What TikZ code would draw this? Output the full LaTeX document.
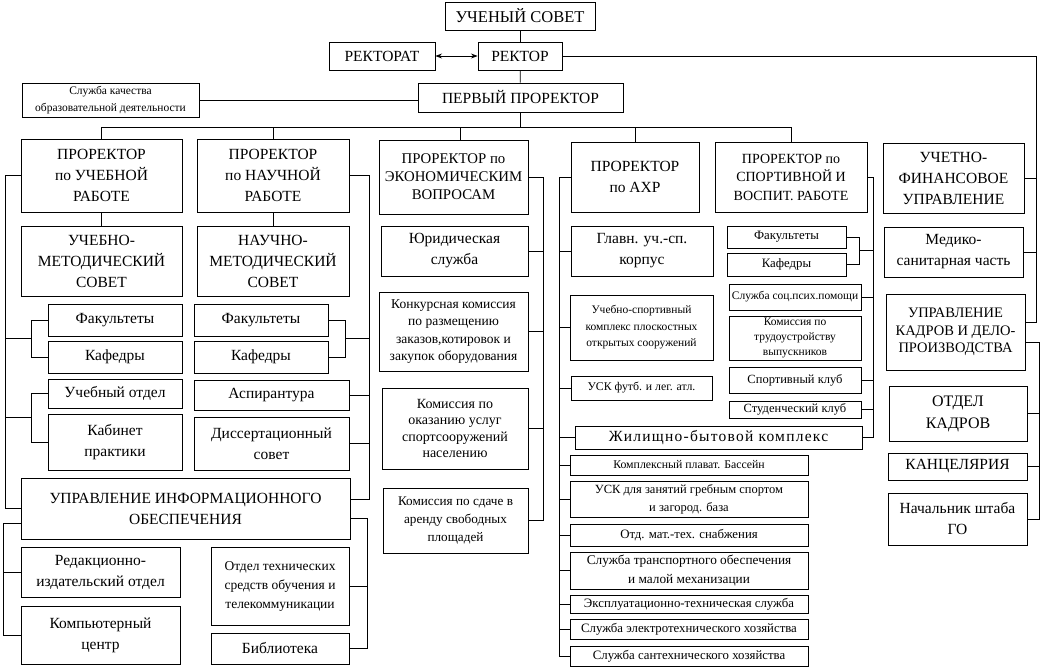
\documentclass[tikz,border=0pt]{standalone}
\usepackage{fontspec}
\setmainfont{Liberation Serif}
\usetikzlibrary{arrows.meta, positioning, calc}

\begin{document}
\begin{tikzpicture}[>=Stealth, x=1pt, y=-1pt, line width=0.8pt,
  box/.style={draw, align=center, inner sep=1pt},
  sz/.style 2 args={minimum width=#1, minimum height=#2},
  fsize/.style 2 args={font=\fontsize{#1}{#2}\selectfont},
  fbig/.style={fsize={15.5}{21}},
  fmid/.style={fsize={13.3}{18.5}},
  fsml/.style={fsize={12.8}{16.5}},
  ftny/.style={fsize={11.5}{15}}]
  \useasboundingbox (0,0) rectangle (1040,667);
  \coordinate (bus) at (0,127);
  \coordinate (lrail) at (5,0);
  \coordinate (lrail2) at (3,0);
  \coordinate (nrail) at (369,0);
  \coordinate (nrail2) at (367,0);
  \coordinate (erail) at (543,0);
  \coordinate (arail) at (559,0);
  \coordinate (srail) at (873,0);
  \coordinate (rrail) at (1036,0);
  \coordinate (rrail2) at (1039,0);

  % top
  \node[box, fsize={16.5}{21}, sz={150}{28}] (usov) at (520,16) {УЧЕНЫЙ СОВЕТ};
  \node[box, fbig, sz={106}{28}] (rektorat) at (382,56) {РЕКТОРАТ};
  \node[box, fbig, sz={84}{28}] (rektor) at (520,56) {РЕКТОР};
  \node[box, fsize={11.5}{16.5}, sz={177}{34}] (sluzhba) at (110.5,100) {Служба качества\\образовательной деятельности};
  \node[box, fbig, sz={205}{29}] (perv) at (520.5,97.5) {ПЕРВЫЙ ПРОРЕКТОР};

  % prorectors
  \node[box, fbig, sz={161}{73}] (pu) at (101.5,175.5) {ПРОРЕКТОР\\по УЧЕБНОЙ\\РАБОТЕ};
  \node[box, fbig, sz={152}{73}] (pn) at (273,175.5) {ПРОРЕКТОР\\по НАУЧНОЙ\\РАБОТЕ};
  \node[box, fsize={14.8}{18}, sz={149}{74}] (pe) at (453.5,177) {ПРОРЕКТОР по\\ЭКОНОМИЧЕСКИМ\\ВОПРОСАМ};
  \node[box, fbig, sz={128}{70}] (pa) at (635,177) {ПРОРЕКТОР\\по АХР};
  \node[box, fsize={14}{18.5}, sz={152}{70}] (ps) at (791,177) {ПРОРЕКТОР по\\СПОРТИВНОЙ И\\ВОСПИТ. РАБОТЕ};
  \node[box, fbig, sz={141}{70}] (ufu) at (953.5,178) {УЧЕТНО-\\ФИНАНСОВОЕ\\УПРАВЛЕНИЕ};

  % left columns
  \node[box, fbig, sz={161}{70}] (ums) at (101.5,261) {УЧЕБНО-\\МЕТОДИЧЕСКИЙ\\СОВЕТ};
  \node[box, fbig, sz={152}{70}] (nms) at (273,261) {НАУЧНО-\\МЕТОДИЧЕСКИЙ\\СОВЕТ};
  \node[box, fbig, sz={134}{32}] (lfak) at (115,320) {Факультеты};
  \node[box, fbig, sz={134}{32}] (lkaf) at (115,357) {Кафедры};
  \node[box, fbig, sz={134}{29}] (uo) at (115,393.5) {Учебный отдел};
  \node[box, fbig, sz={134}{56}] (kab) at (115,442) {Кабинет\\практики};
  \node[box, fbig, sz={134}{32}] (nfak) at (261,320) {Факультеты};
  \node[box, fbig, sz={134}{32}] (nkaf) at (261,357) {Кафедры};
  \node[box, fbig, sz={155}{30}] (asp) at (271.5,395) {Аспирантура};
  \node[box, fbig, sz={155}{53}] (dis) at (271.5,443.5) {Диссертационный\\совет};
  \node[box, fbig, sz={329}{61}] (uio) at (185.5,508.5) {УПРАВЛЕНИЕ ИНФОРМАЦИОННОГО\\ОБЕСПЕЧЕНИЯ};
  \node[box, fbig, sz={159}{50}] (red) at (100.5,572) {Редакционно-\\издательский отдел};
  \node[box, fbig, sz={159}{58}] (komp) at (100.5,635) {Компьютерный\\центр};
  \node[box, fsize={13.5}{19}, sz={138}{78}] (tso) at (280,586) {Отдел технических\\средств обучения и\\телекоммуникации};
  \node[box, fbig, sz={138}{31}] (bib) at (280,648.5) {Библиотека};

  % economics
  \node[box, fbig, sz={147}{50}] (yur) at (454.5,251) {Юридическая\\служба};
  \node[box, fsize={13.5}{17.5}, sz={149}{79}] (konk) at (453.5,331.5) {Конкурсная комиссия\\по размещению\\заказов,котировок и\\закупок оборудования};
  \node[box, fsize={14}{16.5}, sz={146}{81}] (okaz) at (455,428.5) {Комиссия по\\оказанию услуг\\спортсооружений\\населению};
  \node[box, fsize={13.2}{18}, sz={145}{65}] (sd) at (455.5,520.5) {Комиссия по сдаче в\\аренду свободных\\площадей};

  % AHR
  \node[box, fbig, sz={142}{50}] (glav) at (642,251) {Главн. уч.-сп.\\корпус};
  \node[box, fsize={11.5}{16.5}, sz={143}{65}] (usk) at (641.5,327.5) {Учебно-спортивный\\комплекс плоскостных\\открытых сооружений};
  \node[box, fsize={11.8}{16}, sz={141}{24}] (uskf) at (641.5,388) {УСК футб. и лег. атл.};
  \node[box, sz={287}{23}, font=\fontsize{15.5}{21}\selectfont\addfontfeature{LetterSpace=8}] (zhil) at (718.5,437.5) {Жилищно-бытовой комплекс};
  \node[box, fsize={11.8}{16}, sz={238}{20}] (bass) at (689,465) {Комплексный плават. Бассейн};
  \node[box, fsize={12.5}{18}, sz={238}{36}] (grebn) at (689,499) {УСК для занятий гребным спортом\\и загород. база};
  \node[box, fsml, sz={238}{22}] (mat) at (689,535) {Отд. мат.-тех. снабжения};
  \node[box, fmid, sz={238}{37}] (trans) at (689,570.5) {Служба транспортного обеспечения\\и малой механизации};
  \node[box, fsml, sz={238}{18}] (expl) at (689,604) {Эксплуатационно-техническая служба};
  \node[box, fsml, sz={238}{20}] (elek) at (689,629) {Служба электротехнического хозяйства};
  \node[box, fsml, sz={238}{20}] (santeh) at (689,656) {Служба сантехнического хозяйства};

  % sport
  \node[box, fsml, sz={119}{22}] (sfak) at (786.5,237) {Факультеты};
  \node[box, fsml, sz={119}{23}] (skaf) at (786.5,264.5) {Кафедры};
  \node[box, ftny, sz={132}{26}] (soc) at (795,297) {Служба соц.псих.помощи};
  \node[box, ftny, sz={132}{44}] (trud) at (795,338) {Комиссия по\\трудоустройству\\выпускников};
  \node[box, fsize={12.5}{16}, sz={132}{26}] (sklub) at (795,380) {Спортивный клуб};
  \node[box, fsize={12.5}{16}, sz={132}{17}] (stklub) at (795,409.5) {Студенческий клуб};

  % right column
  \node[box, fbig, sz={139}{50}] (med) at (953.5,252) {Медико-\\санитарная часть};
  \node[box, fsize={14.5}{17.5}, sz={139}{76}] (uk) at (955.5,332) {УПРАВЛЕНИЕ\\КАДРОВ И ДЕЛО-\\ПРОИЗВОДСТВА};
  \node[box, fsize={16}{22}, sz={138}{55}] (ok) at (958,413.5) {ОТДЕЛ\\КАДРОВ};
  \node[box, fbig, sz={139}{27}] (kanc) at (957.5,466.5) {КАНЦЕЛЯРИЯ};
  \node[box, fbig, sz={139}{52}] (nach) at (957.5,519) {Начальник штаба\\ГО};

  % top connectors
  \draw (usov) -- (rektor);
  \draw[<->] (rektorat) -- (rektor);
  \draw (rektor) -- (perv);
  \draw (sluzhba) -- (sluzhba -| perv.west);
  \draw (perv) -- (perv |- bus);
  \draw (pu) -- (pu |- bus) -- (ps |- bus) -- (ps);
  \foreach \n in {pn,pa} \draw (\n) -- (\n |- bus);
  \draw ([xshift=6.5]pe.north) -- ([xshift=6.5]pe.north |- bus);

  % right rails
  \draw (rektor) -- (rektor -| rrail) -- ([yshift=10]uk.east -| rrail) -- ([yshift=10]uk.east);
  \foreach \n in {ufu,med} \draw (\n) -- (\n -| rrail);
  \draw ([yshift=-10]uk.east) -- ([yshift=-10]uk.east -| rrail2) -- (nach -| rrail2) -- (nach);
  \foreach \n in {ok,kanc} \draw (\n) -- (\n -| rrail2);

  % left rails
  \draw (pu) -- (ums);
  \draw (pn) -- (nms);
  \draw (pu) -- (pu -| lrail) -- (uio -| lrail) -- (uio);
  \draw (lfak.west) -- ++(-16,0) |- (lkaf.west);
  \draw (uo.west) -- ++(-16,0) |- (kab.west);
  \path ($(lfak.west)!.5!(lkaf.west)$) ++(-16,0) coordinate (b1);
  \path ($(uo.west)!.5!(kab.west)$) ++(-16,0) coordinate (b2);
  \foreach \b in {b1,b2} \draw (\b) -- (\b -| lrail);
  \draw ([yshift=-14.5]uio.west) -- ([yshift=-14.5]uio.west -| lrail2) -- (komp -| lrail2) -- (komp);
  \draw (red) -- (red -| lrail2);

  \draw (pn) -- (pn -| nrail) -- ([yshift=9.5]uio.east -| nrail) -- ([yshift=9.5]uio.east);
  \draw (nfak.east) -- ++(17,0) |- (nkaf.east);
  \path ($(nfak.east)!.5!(nkaf.east)$) ++(17,0) coordinate (b3);
  \draw (b3) -- (b3 -| nrail);
  \foreach \n in {asp,dis} \draw (\n) -- (\n -| nrail);
  \draw ([yshift=-9.5]uio.east) -- ([yshift=-9.5]uio.east -| nrail2) -- (bib -| nrail2) -- (bib);
  \draw (tso) -- (tso -| nrail2);

  % economics, AHR, sport
  \draw (pe) -- (pe -| erail) -- (sd -| erail) -- (sd);
  \foreach \n in {yur,konk,okaz} \draw (\n) -- (\n -| erail);
  \draw (pa) -- (pa -| arail) -- (santeh -| arail) -- (santeh);
  \foreach \n in {glav,usk,uskf,zhil,bass,grebn,mat,trans,expl,elek} \draw (\n) -- (\n -| arail);
  \draw (ps) -- (ps -| srail) -- (zhil -| srail) -- (zhil);
  \draw (sfak.east) -- ++(13,0) |- (skaf.east);
  \path ($(sfak.east)!.5!(skaf.east)$) ++(13,0) coordinate (b4);
  \draw (b4) -- (b4 -| srail);
  \foreach \n in {soc,sklub,stklub} \draw (\n) -- (\n -| srail);
\end{tikzpicture}
\end{document}
